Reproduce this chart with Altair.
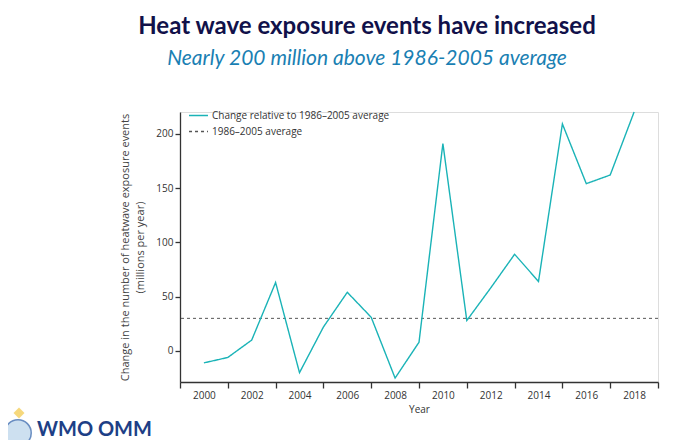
import altair as alt
import pandas as pd

# ---- data ----
years = [2000, 2001, 2002, 2003, 2004, 2005, 2006, 2007, 2008, 2009,
         2010, 2011, 2012, 2013, 2014, 2015, 2016, 2017, 2018]
change = [-11, -6, 10, 63, -20, 22, 54, 31, -25, 8,
          191, 28, 58, 89, 64, 209, 154, 162, 220]
average_value = [30]
series_names = ["Change relative to 1986–2005 average", "1986–2005 average"]
x_tick_values = list(range(1999, 2020))
y_tick_values = [0, 50, 100, 150, 200]
logo_text = ["WMO OMM"]

line_df = pd.DataFrame({"year": years, "change": change, "series": series_names[0]})
avg_df = pd.DataFrame({"change": average_value, "series": series_names[1]})
logo_df = pd.DataFrame({"label": logo_text})

FONT = "Open Sans"
TEAL = "#1ab3b7"
DASH_GREY = "#555555"

legend = alt.Legend(
    title=None, orient="none", legendX=8, legendY=-7,
    symbolType="stroke", symbolSize=360, symbolStrokeWidth=1.4,
    labelFont=FONT, labelFontSize=10, labelColor="#333333",
    rowPadding=-2, padding=0, labelOffset=3, labelLimit=400,
)

color = alt.Color("series:N",
                  scale=alt.Scale(domain=series_names, range=[TEAL, DASH_GREY]),
                  legend=legend)
dash = alt.StrokeDash("series:N",
                      scale=alt.Scale(domain=series_names, range=[[1, 0], [3, 3]]),
                      legend=legend)

x_enc = alt.X(
    "year:Q",
    scale=alt.Scale(domain=[1999, 2019], nice=False, zero=False),
    axis=alt.Axis(
        values=x_tick_values,
        labelExpr="datum.value % 2 == 0 ? toString(datum.value) : ''",
        tickOpacity={"condition": {"test": "datum.value % 2 == 1", "value": 1}, "value": 0},
        title="Year", grid=False, tickSize=6, labelPadding=2,
        domainColor="#333333", tickColor="#333333", domainWidth=1.3, tickWidth=1.3,
        labelFont=FONT, labelFontSize=10, labelColor="#333333",
        titleFont=FONT, titleFontSize=10, titleFontWeight="normal", titleColor="#333333",
        titlePadding=4, labelFlush=False, labelOverlap=False,
    ),
)
y_scale = alt.Scale(domain=[-28.6, 220], nice=False, zero=False)
y_axis = alt.Axis(
    values=y_tick_values, grid=False, tickSize=5,
    domainColor="#333333", tickColor="#333333", domainWidth=1.3, tickWidth=1.3,
    labelFont=FONT, labelFontSize=10, labelColor="#333333", labelPadding=2,
    title=["Change in the number of heatwave exposure events", "(millions per year)"],
    titleFont=FONT, titleFontSize=11, titleFontWeight="normal", titleColor="#444444",
    titlePadding=10, titleLineHeight=15, titleLimit=400,
)

line = alt.Chart(line_df).mark_line(strokeWidth=1.4).encode(
    x=x_enc,
    y=alt.Y("change:Q", scale=y_scale, axis=y_axis),
    color=color,
    strokeDash=dash,
)

avg = alt.Chart(avg_df).mark_rule(strokeWidth=1).encode(
    y=alt.Y("change:Q", scale=y_scale),
    color=color,
    strokeDash=dash,
)

logo_circle = alt.Chart(logo_df).mark_point(
    shape="circle", size=700, filled=True, color="#b9d3ea", stroke="#2a5ea8", strokeWidth=1.5
).encode(x=alt.value(-162), y=alt.value(321))
logo_star = alt.Chart(logo_df).mark_point(
    shape="diamond", size=120, filled=True, color="#f2c744"
).encode(x=alt.value(-161), y=alt.value(301))
logo = alt.Chart(logo_df).mark_text(
    align="left", baseline="middle", font="Lato", fontSize=20, fontWeight="bold", color="#1d3f86"
).encode(x=alt.value(-143), y=alt.value(318), text="label:N")

chart = alt.layer(avg, line, logo_circle, logo_star, logo).properties(
    width=478, height=270,
    title=alt.TitleParams(
        text="Heat wave exposure events have increased",
        subtitle="Nearly 200 million above 1986-2005 average",
        anchor="middle", frame="group", dx=-52, offset=36, limit=660,
        font="Lato", fontSize=24, fontWeight="bold", color="#11114a",
        subtitleFont="Lato", subtitleFontSize=21, subtitleFontStyle="italic",
        subtitleColor="#1a7fb3", subtitlePadding=9,
    ),
    autosize=alt.AutoSizeParams(type="none"),
    padding={"left": 172, "top": 104, "right": 25, "bottom": 58},
).configure_view(stroke=None).configure(background="white")

chart.save("out.html", embed_options={"renderer": "svg", "actions": False})
